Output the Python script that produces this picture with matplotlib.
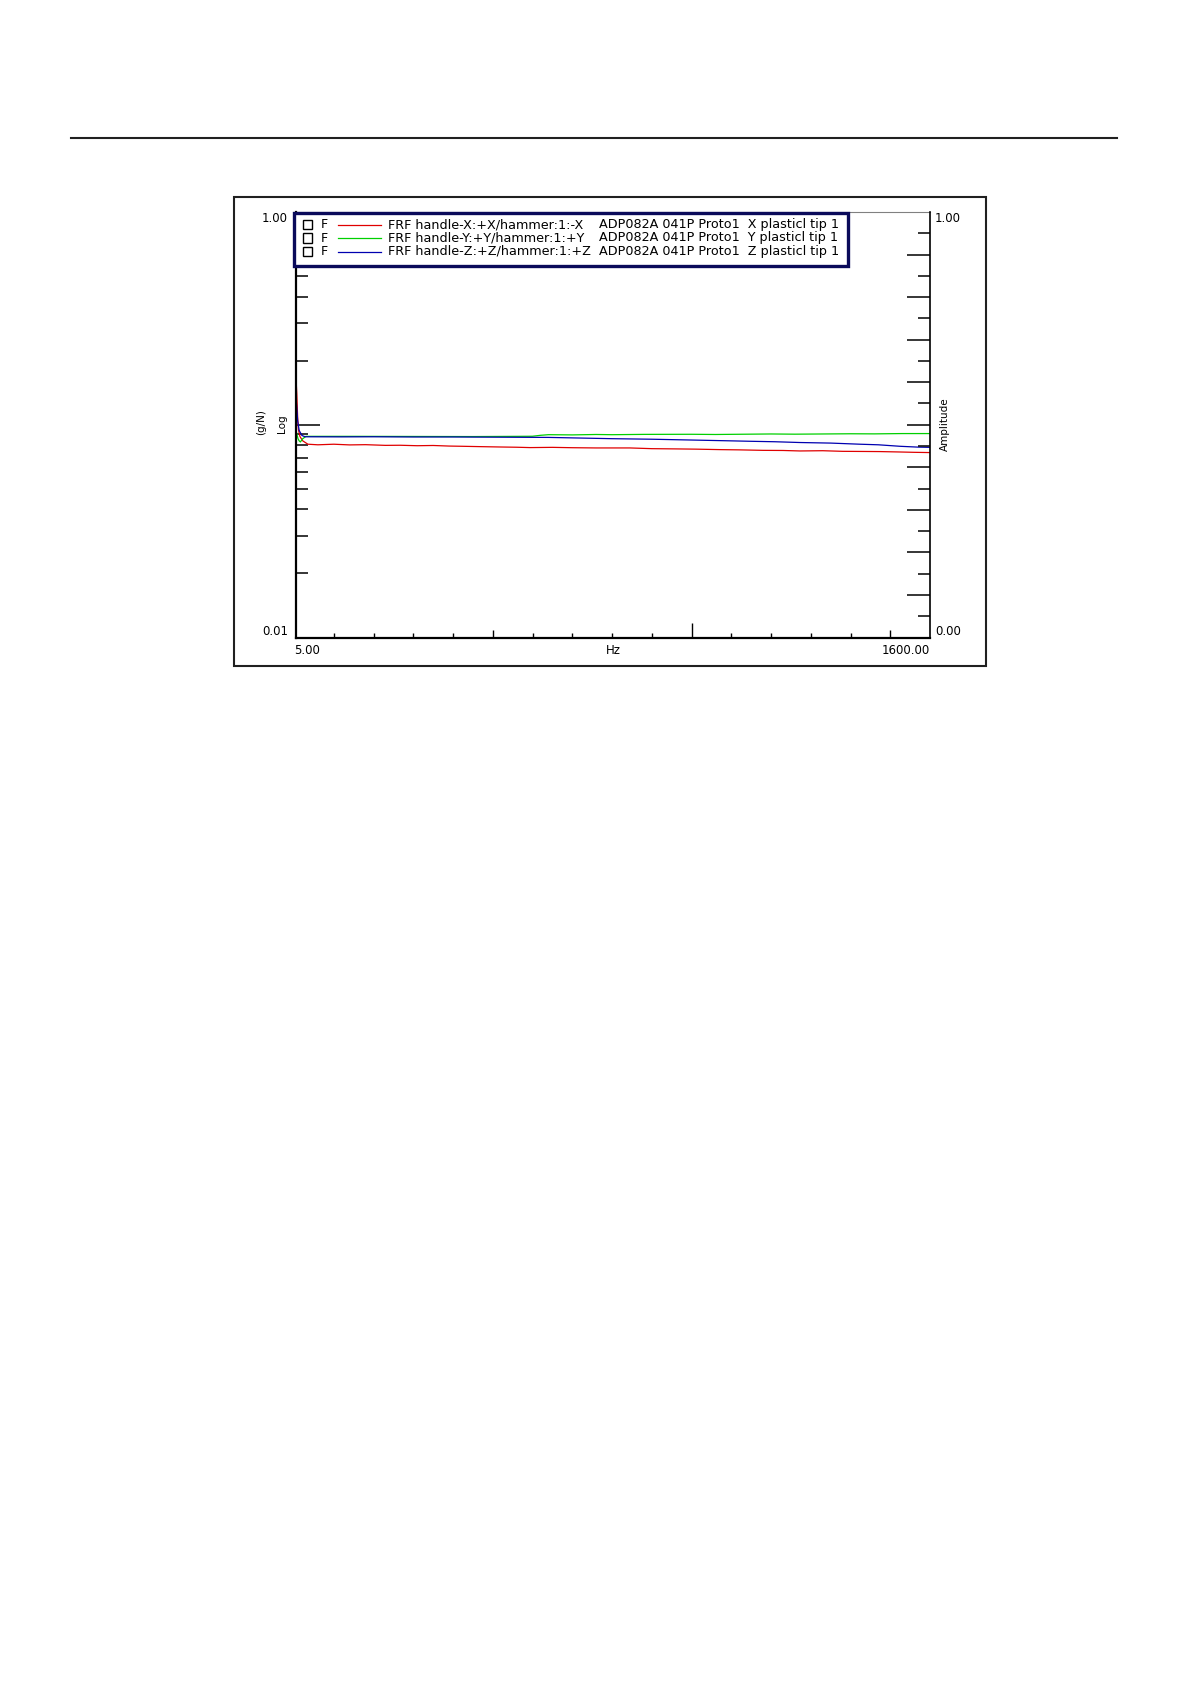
import numpy as np
import matplotlib.pyplot as plt
from matplotlib.patches import Rectangle
from matplotlib.lines import Line2D
from matplotlib.ticker import NullFormatter, LogLocator

W, H = 1191, 1684

# FRF magnitude (g/N)
red_hz = [5, 7, 9, 11, 15, 22, 35, 60, 100, 140, 180, 230, 267, 310, 350, 390, 425, 470, 520, 560, 594, 650,
          700, 760, 845, 900, 960, 1010, 1072, 1120, 1180, 1230, 1273, 1330, 1380, 1430, 1474, 1520, 1560, 1600]
red_vals = [0.165, 0.140, 0.110, 0.095, 0.088, 0.084, 0.0810, 0.0805, 0.0810, 0.0804, 0.0806, 0.0800, 0.0801,
            0.0797, 0.0799, 0.0794, 0.0792, 0.0789, 0.0786, 0.0784, 0.0781, 0.0783, 0.0780, 0.0778, 0.0778,
            0.0772, 0.0770, 0.0768, 0.0764, 0.0762, 0.0758, 0.0757, 0.0753, 0.0755, 0.0750, 0.0749, 0.0748,
            0.0745, 0.0742, 0.0740]

green_hz = [5, 8, 10, 13, 16, 19, 22, 30, 150, 300, 450, 560, 600, 620, 640, 700, 760, 800, 880, 1000, 1060,
            1200, 1260, 1400, 1460, 1530, 1600]
green_vals = [0.094, 0.089, 0.086, 0.084, 0.083, 0.0845, 0.086, 0.0882, 0.0882, 0.0881, 0.0880, 0.0882, 0.0883,
              0.0892, 0.0898, 0.0896, 0.0900, 0.0898, 0.0901, 0.0902, 0.0900, 0.0905, 0.0903, 0.0907, 0.0906,
              0.0909, 0.0909]

blue_hz = [5, 7, 9, 13, 20, 28, 120, 200, 300, 400, 520, 640, 720, 800, 900, 1021, 1100, 1150, 1210, 1273,
           1350, 1424, 1470, 1525, 1570, 1600]
blue_vals = [0.135, 0.120, 0.105, 0.094, 0.089, 0.0878, 0.0877, 0.0878, 0.0876, 0.0876, 0.0874, 0.0872,
             0.0866, 0.0860, 0.0855, 0.0846, 0.0840, 0.0836, 0.0832, 0.0825, 0.0820, 0.0810, 0.0805, 0.0792,
             0.0785, 0.0783]

legend_names = ['FRF handle-X:+X/hammer:1:-X', 'FRF handle-Y:+Y/hammer:1:+Y', 'FRF handle-Z:+Z/hammer:1:+Z']
legend_info = ['ADP082A 041P Proto1  X plasticl tip 1', 'ADP082A 041P Proto1  Y plasticl tip 1',
               'ADP082A 041P Proto1  Z plasticl tip 1']
colors = ['#e00000', '#00d000', '#0000b0']

x_ticks = [100, 200, 300, 400, 500, 600, 700, 800, 900, 1000, 1100, 1200, 1300, 1400, 1500]

plt.rcParams['font.family'] = ['DejaVu Sans']


def fx(px):
    return px / W


def fy(py):
    return 1 - py / H


fig = plt.figure(figsize=(W / 100, H / 100), dpi=100)

# outer frame and header rule
fig.patches.append(Rectangle((fx(234), fy(666)), fx(986) - fx(234), fy(197) - fy(666),
                             transform=fig.transFigure, fill=False, edgecolor='#202020', lw=1.5))
fig.lines.append(Line2D([fx(71), fx(1117)], [fy(138), fy(138)], transform=fig.transFigure,
                        color='#202020', lw=1.5))

ax = fig.add_axes([fx(296), fy(637.5), fx(930) - fx(296), fy(212) - fy(637.5)])
ax.plot(red_hz, red_vals, color=colors[0], lw=0.9)
ax.plot(green_hz, green_vals, color=colors[1], lw=0.9)
ax.plot(blue_hz, blue_vals, color=colors[2], lw=0.9)
ax.set_yscale('log')
ax.set_xlim(5, 1600)
ax.set_ylim(0.01, 1)

ax.set_yticks([0.1])
ax.yaxis.set_minor_locator(LogLocator(subs=np.arange(2, 10)))
ax.yaxis.set_major_formatter(NullFormatter())
ax.yaxis.set_minor_formatter(NullFormatter())
ax.tick_params(axis='y', which='major', direction='in', length=17, width=1.1, left=True, right=False)
ax.tick_params(axis='y', which='minor', direction='in', length=8.6, width=1.1, left=True, right=False)

ax.set_xticks(x_ticks)
ax.xaxis.set_major_formatter(NullFormatter())
ax.tick_params(axis='x', which='major', direction='in', length=3.6, width=1.0)
for tk, v in zip(ax.xaxis.get_major_ticks(), x_ticks):
    if v == 1000:
        tk.tick1line.set_markersize(10.8)
    elif v in (500, 1500):
        tk.tick1line.set_markersize(5.8)

ax.spines['left'].set_linewidth(1.6)
ax.spines['bottom'].set_linewidth(1.6)
ax.spines['top'].set_linewidth(0.8)
ax.spines['top'].set_color('#808080')
ax.spines['right'].set_visible(False)

ax2 = ax.twinx()
ax2.set_ylim(0, 1)
amp_major = np.arange(1, 10) / 10
amp_minor = np.arange(1, 20, 2) / 20
ax2.set_yticks(amp_major)
ax2.set_yticks(amp_minor, minor=True)
ax2.yaxis.set_major_formatter(NullFormatter())
ax2.yaxis.set_minor_formatter(NullFormatter())
ax2.tick_params(axis='y', which='major', direction='in', length=16.5, width=1.1)
ax2.tick_params(axis='y', which='minor', direction='in', length=8.6, width=1.1)
# the 0.95 tick is drawn faint in the reference
ax2.yaxis.get_minor_ticks()[-1].tick2line.set_color('#909090')
for s in ['left', 'top', 'bottom']:
    ax2.spines[s].set_visible(False)
ax2.spines['right'].set_linewidth(1.2)

# axis texts
fs = 8.5
fig.text(fx(262), fy(218), '1.00', fontsize=fs, ha='left', va='center')
fig.text(fx(262), fy(632), '0.01', fontsize=fs, ha='left', va='center')
fig.text(fx(935), fy(218), '1.00', fontsize=fs, ha='left', va='center')
fig.text(fx(935), fy(632), '0.00', fontsize=fs, ha='left', va='center')
fig.text(fx(294), fy(651), '5.00', fontsize=fs, ha='left', va='center')
fig.text(fx(613), fy(651), 'Hz', fontsize=fs, ha='center', va='center')
fig.text(fx(930), fy(651), '1600.00', fontsize=fs, ha='right', va='center')
fig.text(fx(261), fy(422), '(g/N)', fontsize=7.5, rotation=90, ha='center', va='center')
fig.text(fx(282), fy(424), 'Log', fontsize=7.5, rotation=90, ha='center', va='center')
fig.text(fx(945), fy(424), 'Amplitude', fontsize=7.5, rotation=90, ha='center', va='center')

# legend box
fig.patches.append(Rectangle((fx(294), fy(266)), fx(848) - fx(294), fy(213) - fy(266),
                             transform=fig.transFigure, facecolor='white', edgecolor='#0a0a5a',
                             lw=2.4, zorder=5))
row_y = [224.5, 238, 251.5]
for i in range(3):
    y = row_y[i]
    fig.patches.append(Rectangle((fx(303), fy(y + 4.5)), fx(312) - fx(303), fy(y - 4.5) - fy(y + 4.5),
                                 transform=fig.transFigure, fill=False, edgecolor='black', lw=1.0, zorder=6))
    fig.text(fx(321), fy(y), 'F', fontsize=9, ha='left', va='center', zorder=6)
    fig.lines.append(Line2D([fx(338), fx(381)], [fy(y), fy(y)], transform=fig.transFigure,
                            color=colors[i], lw=0.9, zorder=6))
    fig.text(fx(388), fy(y), legend_names[i], fontsize=9.2, ha='left', va='center', zorder=6)
    fig.text(fx(599), fy(y), legend_info[i], fontsize=9.2, ha='left', va='center', zorder=6)

fig.savefig('out.png', dpi=100, facecolor='white')
